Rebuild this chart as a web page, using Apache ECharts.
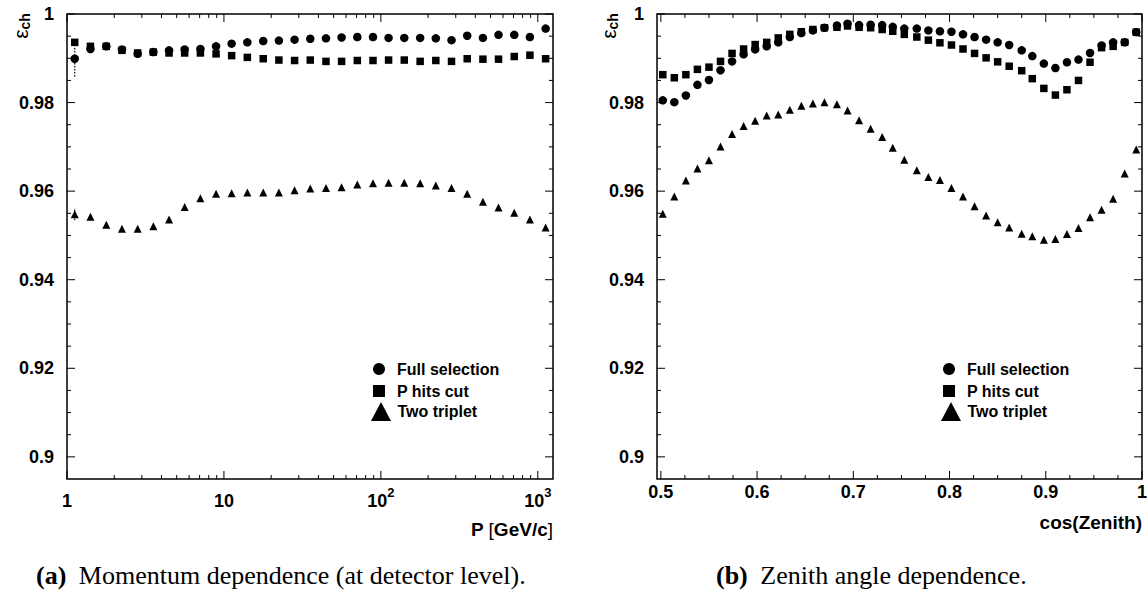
<!DOCTYPE html>
<html>
<head>
<meta charset="utf-8">
<script src="https://cdn.jsdelivr.net/npm/echarts@6/dist/echarts.min.js"></script>
<style>html,body{margin:0;padding:0;background:#fff}#c{width:1148px;height:592px}</style>
</head>
<body>
<div id="c"></div>
<script>
// ---------------- data ----------------
const momentum = [1.12, 1.41, 1.78, 2.24, 2.82, 3.55, 4.47, 5.62, 7.08, 8.91, 11.2, 14.1, 17.8, 22.4, 28.2, 35.5, 44.7, 56.2, 70.8, 89.1, 112, 141, 178, 224, 282, 355, 447, 562, 708, 891, 1122];
const fullSelP = [0.9899, 0.9921, 0.9927, 0.9920, 0.9910, 0.9914, 0.9918, 0.9920, 0.9921, 0.9927, 0.9933, 0.9936, 0.9939, 0.9940, 0.9942, 0.9944, 0.9945, 0.9947, 0.9948, 0.9948, 0.9946, 0.9946, 0.9946, 0.9945, 0.9941, 0.9951, 0.9946, 0.9953, 0.9953, 0.9948, 0.9967];
const pHitsP = [0.9936, 0.9927, 0.9927, 0.9918, 0.9912, 0.9914, 0.9912, 0.9912, 0.9912, 0.9910, 0.9906, 0.9902, 0.9899, 0.9896, 0.9895, 0.9896, 0.9893, 0.9893, 0.9895, 0.9895, 0.9896, 0.9896, 0.9893, 0.9895, 0.9893, 0.9899, 0.9898, 0.9898, 0.9904, 0.9907, 0.9899];
const twoTripP = [0.9548, 0.9542, 0.9524, 0.9515, 0.9515, 0.9521, 0.9536, 0.9564, 0.9584, 0.9594, 0.9595, 0.9597, 0.9597, 0.9597, 0.9602, 0.9606, 0.9607, 0.9609, 0.9615, 0.9618, 0.9619, 0.9619, 0.9618, 0.9613, 0.9607, 0.9594, 0.9576, 0.9563, 0.9551, 0.9536, 0.9518];
// [x, low, high] of the visible error bars on the first momentum bin
const firstBinErrors = [[1.12, 0.9859, 0.9927], [1.12, 0.9534, 0.9562]];

const cosZenith = [0.502, 0.514, 0.526, 0.538, 0.550, 0.562, 0.574, 0.586, 0.598, 0.610, 0.622, 0.634, 0.646, 0.658, 0.670, 0.683, 0.694, 0.706, 0.718, 0.730, 0.741, 0.753, 0.766, 0.778, 0.790, 0.802, 0.814, 0.826, 0.838, 0.850, 0.862, 0.875, 0.886, 0.898, 0.910, 0.922, 0.934, 0.946, 0.958, 0.970, 0.982, 0.994];
const fullSelZ = [0.9805, 0.9801, 0.9816, 0.9840, 0.9851, 0.9873, 0.9893, 0.9909, 0.9920, 0.9927, 0.9936, 0.9948, 0.9957, 0.9963, 0.9969, 0.9974, 0.9978, 0.9975, 0.9976, 0.9975, 0.9971, 0.9967, 0.9967, 0.9963, 0.9961, 0.9960, 0.9954, 0.9948, 0.9942, 0.9936, 0.9930, 0.9918, 0.9905, 0.9888, 0.9878, 0.9891, 0.9897, 0.9912, 0.9929, 0.9936, 0.9936, 0.9959];
const pHitsZ = [0.9863, 0.9856, 0.9863, 0.9875, 0.9880, 0.9893, 0.9911, 0.9921, 0.9931, 0.9936, 0.9946, 0.9954, 0.9960, 0.9965, 0.9969, 0.9970, 0.9973, 0.9970, 0.9969, 0.9965, 0.9961, 0.9954, 0.9948, 0.9941, 0.9935, 0.9930, 0.9921, 0.9911, 0.9901, 0.9892, 0.9882, 0.9872, 0.9854, 0.9832, 0.9817, 0.9829, 0.9850, 0.9891, 0.9924, 0.9927, 0.9936, 0.9959];
const twoTripZ = [0.9549, 0.9588, 0.9624, 0.9651, 0.9670, 0.9701, 0.9729, 0.9747, 0.9759, 0.9771, 0.9773, 0.9784, 0.9793, 0.9798, 0.9801, 0.9796, 0.9782, 0.9760, 0.9741, 0.9722, 0.9698, 0.9671, 0.9647, 0.9632, 0.9625, 0.9607, 0.9588, 0.9566, 0.9545, 0.9530, 0.9518, 0.9504, 0.9498, 0.9490, 0.9492, 0.9503, 0.9517, 0.9541, 0.9558, 0.9583, 0.9640, 0.9694];

// tick positions / tick labels
const effMajorTicks = [0.9, 0.92, 0.94, 0.96, 0.98, 1.0];
const effMinorTicks = [0.905, 0.91, 0.915, 0.925, 0.93, 0.935, 0.945, 0.95, 0.955, 0.965, 0.97, 0.975, 0.985, 0.99, 0.995];
const pMajorTicks = [1, 10, 100, 1000];
const pMinorTicks = [2, 3, 4, 5, 6, 7, 8, 9, 20, 30, 40, 50, 60, 70, 80, 90, 200, 300, 400, 500, 600, 700, 800, 900];
const cosMajorTicks = [0.5, 0.6, 0.7, 0.8, 0.9, 1.0];
const cosMinorTicks = [0.525, 0.55, 0.575, 0.625, 0.65, 0.675, 0.725, 0.75, 0.775, 0.825, 0.85, 0.875, 0.925, 0.95, 0.975];
const seriesNames = ['Full selection', 'P hits cut', 'Two triplet'];

// ---------------- chart ----------------
const FONT = "'Liberation Sans', Arial, Helvetica, sans-serif";
const SERIF = "'Liberation Serif', 'Times New Roman', serif";
const Y_MIN = 0.895, Y_MAX = 1.0;
const P_MIN = 1, P_MAX = 1250;
const C_MIN = 0.496, C_MAX = 1.0;
const MAJOR = 8, MINOR = 4;

function effLabel(v) {
  const r = Math.round(v * 50);
  if (Math.abs(v * 50 - r) > 1e-6) return '';
  return String(parseFloat((r / 50).toFixed(2)));
}
function pLabel(v) {
  const e = Math.log10(v), r = Math.round(e);
  if (Math.abs(e - r) > 1e-6) return '';
  if (r === 0) return '{b|1}';
  if (r === 1) return '{b|10}';
  return '{b|10}{s|' + r + '}';
}
function cosLabel(v) {
  const r = Math.round(v * 10);
  if (Math.abs(v * 10 - r) > 1e-6) return '';
  return String(r / 10);
}

const labelStyle = { color: '#000', fontFamily: FONT, fontWeight: 'bold', fontSize: 18 };

function xTicks(gi, vals, len, yMin, yMax) {
  return {
    type: 'custom', xAxisIndex: gi, yAxisIndex: gi, silent: true, z: 4,
    data: vals.map(v => [v, yMin]),
    renderItem: (params, api) => {
      const x = api.value(0);
      const b = api.coord([x, yMin]), t = api.coord([x, yMax]);
      return { type: 'group', children: [
        { type: 'line', shape: { x1: b[0], y1: b[1], x2: b[0], y2: b[1] - len }, style: { stroke: '#000', lineWidth: 1 } },
        { type: 'line', shape: { x1: t[0], y1: t[1], x2: t[0], y2: t[1] + len }, style: { stroke: '#000', lineWidth: 1 } }
      ] };
    }
  };
}
function yTicks(gi, vals, len, xMin, xMax) {
  return {
    type: 'custom', xAxisIndex: gi, yAxisIndex: gi, silent: true, z: 4,
    data: vals.map(v => [xMin, v]),
    renderItem: (params, api) => {
      const y = api.value(1);
      const l = api.coord([xMin, y]), r = api.coord([xMax, y]);
      return { type: 'group', children: [
        { type: 'line', shape: { x1: l[0], y1: l[1], x2: l[0] + len, y2: l[1] }, style: { stroke: '#000', lineWidth: 1 } },
        { type: 'line', shape: { x1: r[0], y1: r[1], x2: r[0] - len, y2: r[1] }, style: { stroke: '#000', lineWidth: 1 } }
      ] };
    }
  };
}
function scatter(gi, name, symbol, size, xs, ys) {
  return {
    type: 'scatter', name, xAxisIndex: gi, yAxisIndex: gi, symbol, symbolSize: size,
    itemStyle: { color: '#000', opacity: 1 }, emphasis: { disabled: true }, z: 3,
    data: xs.map((x, i) => [x, ys[i]])
  };
}
function legendItem(name, icon, left, top, w, h, pad) {
  return {
    data: [{ name, icon }], orient: 'vertical', left, top, itemWidth: w, itemHeight: h,
    padding: 0, selectedMode: false, itemStyle: { color: '#000', opacity: 1 },
    textStyle: { fontFamily: FONT, fontWeight: 'bold', fontSize: 16, color: '#000', padding: [0, 0, 0, pad] }
  };
}
function legends(dx) {
  return [
    legendItem(seriesNames[0], 'circle', 373 + dx, 361, 12, 12, 7),
    legendItem(seriesNames[1], 'rect', 373 + dx, 383, 12, 12, 7),
    legendItem(seriesNames[2], 'triangle', 371 + dx, 402, 20, 19, 1.5)
  ];
}
function epsName(x) {
  return {
    type: 'text', x, y: 26, rotation: Math.PI / 2, z: 10,
    style: {
      text: '{e|ε}{s|ch}', align: 'center', verticalAlign: 'middle', textAlign: 'center', textVerticalAlign: 'middle',
      rich: {
        e: { fontFamily: FONT, fontSize: 21, lineHeight: 24, fill: '#000' },
        s: { fontFamily: FONT, fontWeight: 'bold', fontSize: 14, lineHeight: 14, verticalAlign: 'bottom', fill: '#000' }
      }
    }
  };
}
function caption(x, tag, text) {
  return {
    type: 'text', x, y: 575, z: 10,
    style: {
      text: '{b|' + tag + '}{n| ' + text + '}', align: 'left', verticalAlign: 'middle', textAlign: 'left', textVerticalAlign: 'middle',
      rich: {
        b: { fontFamily: SERIF, fontWeight: 'bold', fontSize: 26, fill: '#000', padding: [0, 6, 0, 0] },
        n: { fontFamily: SERIF, fontSize: 26, fill: '#000' }
      }
    }
  };
}

const gridStyle = { show: true, borderColor: '#000', borderWidth: 1.5, backgroundColor: 'rgba(0,0,0,0)', containLabel: false, outerBoundsMode: 'none' };
const nameRich = {
  b: { fontFamily: FONT, fontWeight: 'bold', fontSize: 19, color: '#000' },
  n: { fontFamily: FONT, fontWeight: 'normal', fontSize: 19, color: '#000' }
};

const option = {
  animation: false,
  backgroundColor: '#fff',
  textStyle: { fontFamily: FONT },
  grid: [
    Object.assign({ left: 67, top: 14, width: 486, height: 465 }, gridStyle),
    Object.assign({ left: 657, top: 14, width: 485, height: 465 }, gridStyle)
  ],
  xAxis: [
    {
      gridIndex: 0, type: 'log', logBase: 10, min: P_MIN, max: P_MAX,
      axisLine: { show: false }, axisTick: { show: false }, splitLine: { show: false },
      axisLabel: Object.assign({ formatter: pLabel, margin: 7,
        rich: {
          b: { fontFamily: FONT, fontWeight: 'bold', fontSize: 18, lineHeight: 30, color: '#000' },
          s: { fontFamily: FONT, fontWeight: 'bold', fontSize: 13, lineHeight: 14, verticalAlign: 'top', color: '#000' }
        } }, labelStyle),
      name: '{b|P }{n|[}{b|GeV/c}{n|]}', nameLocation: 'end', nameGap: 0, nameMoveOverlap: false,
      nameTextStyle: { align: 'right', verticalAlign: 'top', padding: [41, 0, 0, 0], rich: nameRich }
    },
    {
      gridIndex: 1, type: 'value', min: C_MIN, max: C_MAX, interval: 0.004,
      axisLine: { show: false }, axisTick: { show: false }, splitLine: { show: false },
      axisLabel: Object.assign({ formatter: cosLabel, margin: 4, showMaxLabel: true }, labelStyle),
      name: '{b|cos(Zenith)}', nameLocation: 'end', nameGap: 0, nameMoveOverlap: false,
      nameTextStyle: { align: 'right', verticalAlign: 'top', padding: [34, 0, 0, 0], rich: nameRich }
    }
  ],
  yAxis: [0, 1].map(gi => ({
    gridIndex: gi, type: 'value', min: Y_MIN, max: Y_MAX, interval: 0.005,
    axisLine: { show: false }, axisTick: { show: false }, splitLine: { show: false },
    axisLabel: Object.assign({ formatter: effLabel, margin: 13, showMaxLabel: true }, labelStyle)
  })),
  legend: legends(0).concat(legends(570)),
  graphic: [
    epsName(20), epsName(608),
    caption(36, '(a)', 'Momentum dependence (at detector level).'),
    caption(716, '(b)', 'Zenith angle dependence.')
  ],
  series: [
    {
      type: 'custom', xAxisIndex: 0, yAxisIndex: 0, silent: true, z: 2,
      encode: { x: 0, y: [1, 2] },
      data: firstBinErrors,
      renderItem: (params, api) => {
        const x = api.value(0);
        const a = api.coord([x, api.value(1)]), b = api.coord([x, api.value(2)]);
        return { type: 'line', shape: { x1: a[0], y1: a[1], x2: b[0], y2: b[1] },
          style: { stroke: '#000', lineWidth: 1.2, lineDash: [1.5, 1.5] } };
      }
    },
    scatter(0, seriesNames[0], 'circle', 8.5, momentum, fullSelP),
    scatter(0, seriesNames[1], 'rect', 7.5, momentum, pHitsP),
    scatter(0, seriesNames[2], 'triangle', 8, momentum, twoTripP),
    scatter(1, seriesNames[0], 'circle', 8.5, cosZenith, fullSelZ),
    scatter(1, seriesNames[1], 'rect', 7.5, cosZenith, pHitsZ),
    scatter(1, seriesNames[2], 'triangle', 8, cosZenith, twoTripZ),
    xTicks(0, pMajorTicks, MAJOR, Y_MIN, Y_MAX),
    xTicks(0, pMinorTicks, MINOR, Y_MIN, Y_MAX),
    yTicks(0, effMajorTicks, MAJOR, P_MIN, P_MAX),
    yTicks(0, effMinorTicks, MINOR, P_MIN, P_MAX),
    xTicks(1, cosMajorTicks, MAJOR, Y_MIN, Y_MAX),
    xTicks(1, cosMinorTicks, MINOR, Y_MIN, Y_MAX),
    yTicks(1, effMajorTicks, MAJOR, C_MIN, C_MAX),
    yTicks(1, effMinorTicks, MINOR, C_MIN, C_MAX)
  ]
};

const chart = echarts.init(document.getElementById('c'), null, { renderer: 'svg' });
chart.setOption(option);
</script>
</body>
</html>
